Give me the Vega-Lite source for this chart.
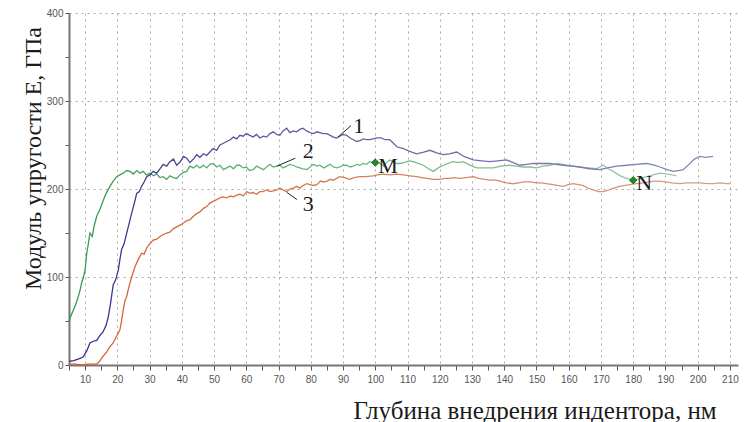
{
  "$schema": "https://vega.github.io/schema/vega-lite/v6.json",
  "width": 669,
  "height": 352,
  "autosize": {"type": "none"},
  "padding": {"left": 69, "top": 13, "right": 16, "bottom": 57},
  "background": "white",
  "config": {"view": {"stroke": null}},
  "datasets": {
    "c1": [
      {"x":5,"y":4},{"x":6.5,"y":5},{"x":8,"y":7},{"x":9.4,"y":9},{"x":10.5,"y":16},{"x":11.5,"y":25},{"x":12.5,"y":27},{"x":13.6,"y":28},{"x":14.5,"y":33},{"x":15.6,"y":38},{"x":16.5,"y":45},{"x":17.2,"y":55},{"x":17.8,"y":68},{"x":18.2,"y":78},{"x":18.7,"y":91},{"x":19.5,"y":97},{"x":20.3,"y":108},{"x":20.8,"y":120},{"x":21.3,"y":131},{"x":22.1,"y":138},{"x":22.9,"y":150},{"x":23.6,"y":160},{"x":24.4,"y":172},{"x":25.2,"y":183},{"x":26,"y":195},{"x":26.8,"y":197},{"x":27.5,"y":203},{"x":28.3,"y":208},{"x":29.1,"y":214},{"x":30.1,"y":216},{"x":31.1,"y":220},{"x":32.2,"y":218},{"x":33.2,"y":223},{"x":34.2,"y":228},{"x":35.3,"y":226},{"x":36.3,"y":231},{"x":37.4,"y":234},{"x":38.4,"y":227},{"x":39.5,"y":231},{"x":40.5,"y":237},{"x":41.5,"y":235},{"x":42.5,"y":230},{"x":43.6,"y":234},{"x":44.6,"y":239},{"x":45.6,"y":236},{"x":46.7,"y":240},{"x":47.7,"y":238},{"x":48.7,"y":242},{"x":49.7,"y":246},{"x":50.8,"y":244},{"x":51.8,"y":250},{"x":52.9,"y":252},{"x":53.9,"y":254},{"x":55,"y":256},{"x":56,"y":259},{"x":57,"y":257},{"x":58,"y":261},{"x":59,"y":260},{"x":60,"y":263},{"x":61.1,"y":261},{"x":62.1,"y":259},{"x":63.2,"y":262},{"x":64.2,"y":258},{"x":65.3,"y":260},{"x":66.3,"y":259},{"x":67.3,"y":263},{"x":68.4,"y":265},{"x":69.4,"y":262},{"x":70.4,"y":261},{"x":71.4,"y":266},{"x":72.5,"y":269},{"x":73.5,"y":264},{"x":74.6,"y":266},{"x":75.6,"y":265},{"x":76.7,"y":268},{"x":77.6,"y":269},{"x":78.7,"y":266},{"x":79.8,"y":264},{"x":80.8,"y":263},{"x":82,"y":265},{"x":83.8,"y":263},{"x":85,"y":263},{"x":86,"y":261},{"x":87,"y":259},{"x":88,"y":258},{"x":89,"y":260},{"x":90,"y":262},{"x":91.1,"y":261},{"x":92.2,"y":258},{"x":93.2,"y":256},{"x":94.2,"y":254},{"x":95.3,"y":255},{"x":96.3,"y":257},{"x":97.3,"y":256},{"x":98.3,"y":256},{"x":99.3,"y":257},{"x":100.5,"y":258},{"x":101.9,"y":258},{"x":103,"y":256},{"x":104.5,"y":256},{"x":106.7,"y":248},{"x":108.7,"y":246},{"x":110.5,"y":243},{"x":112.8,"y":240},{"x":115,"y":242},{"x":117,"y":244},{"x":119,"y":241},{"x":121.1,"y":239},{"x":123,"y":240},{"x":125.2,"y":242},{"x":127.5,"y":237},{"x":130.4,"y":233},{"x":133,"y":232},{"x":135.5,"y":231},{"x":138,"y":232},{"x":140.7,"y":233},{"x":142.8,"y":230},{"x":144.8,"y":227},{"x":147,"y":228},{"x":149,"y":229},{"x":151.5,"y":229},{"x":154.1,"y":229},{"x":156,"y":228},{"x":158.3,"y":227},{"x":161,"y":226},{"x":163.4,"y":225},{"x":166.5,"y":223},{"x":169.6,"y":222},{"x":172,"y":224},{"x":175,"y":226},{"x":177.9,"y":227},{"x":181,"y":228},{"x":184.1,"y":229},{"x":186.5,"y":227},{"x":188.3,"y":225},{"x":190.5,"y":222},{"x":192.4,"y":220},{"x":194,"y":221},{"x":195.5,"y":222},{"x":197.6,"y":229},{"x":199,"y":234},{"x":200.7,"y":237},{"x":202.5,"y":236},{"x":204.8,"y":237}
    ],
    "c2": [
      {"x":5,"y":50},{"x":5.5,"y":55},{"x":6.3,"y":62},{"x":7,"y":68},{"x":7.9,"y":78},{"x":8.5,"y":86},{"x":8.9,"y":93},{"x":9.5,"y":100},{"x":10,"y":108},{"x":10.5,"y":127},{"x":11,"y":138},{"x":11.5,"y":150},{"x":12.2,"y":146},{"x":12.8,"y":158},{"x":13.6,"y":169},{"x":14.5,"y":176},{"x":15.6,"y":187},{"x":16.5,"y":195},{"x":17.7,"y":203},{"x":18.7,"y":209},{"x":19.8,"y":214},{"x":20.8,"y":216},{"x":21.8,"y":218},{"x":22.9,"y":221},{"x":23.9,"y":220},{"x":25,"y":217},{"x":26,"y":221},{"x":27,"y":218},{"x":28,"y":220},{"x":29,"y":216},{"x":30.1,"y":218},{"x":31.2,"y":215},{"x":32.2,"y":217},{"x":33.2,"y":213},{"x":34.2,"y":214},{"x":35.3,"y":211},{"x":36.3,"y":215},{"x":37.4,"y":213},{"x":38.4,"y":212},{"x":39.4,"y":216},{"x":40.5,"y":219},{"x":41.5,"y":220},{"x":42.5,"y":226},{"x":43.6,"y":224},{"x":44.6,"y":227},{"x":45.6,"y":224},{"x":46.7,"y":227},{"x":47.7,"y":224},{"x":48.7,"y":228},{"x":49.7,"y":229},{"x":50.8,"y":225},{"x":51.8,"y":227},{"x":52.9,"y":222},{"x":53.9,"y":224},{"x":55,"y":226},{"x":56,"y":223},{"x":57,"y":227},{"x":58,"y":227},{"x":59,"y":224},{"x":60,"y":225},{"x":61,"y":221},{"x":62.1,"y":222},{"x":63.2,"y":226},{"x":64.2,"y":224},{"x":65.3,"y":222},{"x":66.3,"y":225},{"x":67.3,"y":228},{"x":68.4,"y":225},{"x":69.4,"y":226},{"x":70.4,"y":227},{"x":71.4,"y":224},{"x":72.5,"y":226},{"x":73.5,"y":228},{"x":74.5,"y":227},{"x":75.6,"y":225},{"x":76.6,"y":224},{"x":77.6,"y":223},{"x":78.7,"y":222},{"x":79.8,"y":225},{"x":80.8,"y":228},{"x":81.8,"y":226},{"x":82.8,"y":227},{"x":84,"y":224},{"x":85,"y":226},{"x":86,"y":228},{"x":87,"y":225},{"x":88,"y":224},{"x":89,"y":225},{"x":90,"y":227},{"x":91.1,"y":227},{"x":92.2,"y":225},{"x":93.2,"y":226},{"x":94.2,"y":228},{"x":95.2,"y":227},{"x":96.3,"y":229},{"x":97.3,"y":228},{"x":98.3,"y":231},{"x":99.3,"y":230},{"x":100.5,"y":231},{"x":101.5,"y":229},{"x":102.5,"y":226},{"x":103.5,"y":230},{"x":104.5,"y":233},{"x":105.5,"y":231},{"x":106.5,"y":229},{"x":107.6,"y":229},{"x":109,"y":230},{"x":110.5,"y":232},{"x":111.8,"y":231},{"x":113.3,"y":229},{"x":114.9,"y":227},{"x":116.5,"y":223},{"x":118,"y":220},{"x":119.5,"y":224},{"x":121.1,"y":227},{"x":122.6,"y":229},{"x":124.2,"y":231},{"x":125.7,"y":230},{"x":127.3,"y":231},{"x":128.8,"y":228},{"x":131.4,"y":224},{"x":134,"y":224},{"x":136.6,"y":224},{"x":139,"y":226},{"x":141.7,"y":227},{"x":143.8,"y":226},{"x":145.9,"y":225},{"x":148,"y":225},{"x":150,"y":224},{"x":152,"y":226},{"x":154.1,"y":227},{"x":156.5,"y":229},{"x":159.3,"y":227},{"x":161.4,"y":226},{"x":163.4,"y":225},{"x":166,"y":224},{"x":168.6,"y":223},{"x":170.7,"y":227},{"x":172.3,"y":223},{"x":173.8,"y":220},{"x":176,"y":215},{"x":177.9,"y":212},{"x":179.2,"y":211},{"x":180.5,"y":210},{"x":182.3,"y":212},{"x":184.1,"y":214},{"x":186.2,"y":216},{"x":188.3,"y":218},{"x":190.5,"y":217},{"x":192,"y":216},{"x":193.4,"y":215}
    ],
    "c3": [
      {"x":5,"y":1},{"x":7,"y":1},{"x":9,"y":0},{"x":11,"y":1},{"x":13.6,"y":1},{"x":14.6,"y":5},{"x":15.6,"y":10},{"x":16.7,"y":15},{"x":17.7,"y":21},{"x":18.7,"y":25},{"x":19.8,"y":33},{"x":20.8,"y":40},{"x":21.3,"y":50},{"x":21.8,"y":62},{"x":22.3,"y":72},{"x":22.9,"y":78},{"x":23.4,"y":86},{"x":23.9,"y":93},{"x":24.7,"y":103},{"x":25.5,"y":112},{"x":26.5,"y":120},{"x":27.5,"y":127},{"x":28.3,"y":126},{"x":29.1,"y":133},{"x":30.1,"y":138},{"x":31.1,"y":142},{"x":32.2,"y":143},{"x":33.2,"y":146},{"x":34.2,"y":148},{"x":35.3,"y":150},{"x":36.3,"y":151},{"x":37.4,"y":155},{"x":38.4,"y":157},{"x":39.4,"y":159},{"x":40.4,"y":161},{"x":41.5,"y":164},{"x":42.5,"y":165},{"x":43.6,"y":169},{"x":44.6,"y":172},{"x":45.6,"y":174},{"x":46.7,"y":178},{"x":47.7,"y":180},{"x":48.7,"y":184},{"x":49.7,"y":186},{"x":50.8,"y":188},{"x":51.8,"y":190},{"x":52.8,"y":191},{"x":54,"y":190},{"x":55,"y":192},{"x":56,"y":191},{"x":57,"y":193},{"x":58,"y":194},{"x":59,"y":192},{"x":60.1,"y":197},{"x":61.1,"y":195},{"x":62.1,"y":196},{"x":63.2,"y":194},{"x":64.2,"y":197},{"x":65.2,"y":197},{"x":66.3,"y":199},{"x":67.3,"y":197},{"x":68.4,"y":198},{"x":69.4,"y":199},{"x":70.4,"y":201},{"x":71.4,"y":199},{"x":72.5,"y":197},{"x":73.5,"y":200},{"x":74.6,"y":201},{"x":75.6,"y":203},{"x":76.6,"y":201},{"x":77.6,"y":204},{"x":78.7,"y":206},{"x":79.8,"y":205},{"x":80.8,"y":204},{"x":81.9,"y":205},{"x":83,"y":209},{"x":84,"y":208},{"x":85,"y":209},{"x":86,"y":211},{"x":87,"y":210},{"x":88,"y":212},{"x":89,"y":214},{"x":90.5,"y":213},{"x":92,"y":211},{"x":93.5,"y":213},{"x":95,"y":214},{"x":97,"y":214},{"x":99.3,"y":215},{"x":100.5,"y":216},{"x":102.5,"y":217},{"x":104.5,"y":216},{"x":106.7,"y":217},{"x":108.7,"y":216},{"x":110.7,"y":215},{"x":112.8,"y":214},{"x":114.5,"y":213},{"x":116,"y":212},{"x":118,"y":211},{"x":120,"y":211},{"x":121.5,"y":212},{"x":123,"y":212},{"x":124.5,"y":213},{"x":126.2,"y":212},{"x":128,"y":213},{"x":130.4,"y":214},{"x":132,"y":212},{"x":134,"y":211},{"x":135.5,"y":210},{"x":137.5,"y":210},{"x":139.5,"y":208},{"x":140.8,"y":207},{"x":142.8,"y":206},{"x":144.5,"y":207},{"x":146,"y":208},{"x":148,"y":208},{"x":150,"y":207},{"x":151.5,"y":207},{"x":153.1,"y":206},{"x":155,"y":205},{"x":156.5,"y":204},{"x":158.3,"y":203},{"x":159.8,"y":205},{"x":161.4,"y":206},{"x":163,"y":205},{"x":164.4,"y":204},{"x":166,"y":201},{"x":167.6,"y":199},{"x":169.2,"y":197},{"x":170.7,"y":197},{"x":172.5,"y":199},{"x":174,"y":201},{"x":175.8,"y":203},{"x":177.5,"y":204},{"x":179,"y":205},{"x":181,"y":206},{"x":183,"y":207},{"x":185,"y":208},{"x":186.5,"y":209},{"x":188.3,"y":209},{"x":190,"y":208},{"x":192,"y":207},{"x":194.5,"y":206},{"x":196.5,"y":207},{"x":198.5,"y":207},{"x":200.7,"y":207},{"x":203,"y":206},{"x":205,"y":206},{"x":207,"y":207},{"x":209,"y":206},{"x":210,"y":206}
    ],
    "pts": [
      {"label": "M", "x": 100, "y": 230},
      {"label": "N", "x": 180, "y": 210}
    ],
    "nums": [
      {"label": "1", "x": 93.2, "y": 272},
      {"label": "2", "x": 77.5, "y": 243},
      {"label": "3", "x": 77.5, "y": 183}
    ],
    "leaders": [
      {"x": 88.4, "y": 259, "x2": 92.5, "y2": 272},
      {"x": 69.5, "y": 226, "x2": 75.2, "y2": 235},
      {"x": 72.6, "y": 196, "x2": 75.7, "y2": 188}
    ]
  },
  "encoding": {
    "x": {"field": "x", "type": "quantitative", "scale": {"domain": [5, 212.5], "nice": false, "zero": false},
      "axis": {
        "values": [5,10,15,20,25,30,35,40,45,50,55,60,65,70,75,80,85,90,95,100,105,110,115,120,125,130,135,140,145,150,155,160,165,170,175,180,185,190,195,200,205,210],
        "labelExpr": "datum.value % 10 === 0 ? datum.label : ''",
        "labelOverlap": false,
        "grid": true,
        "gridOpacity": {"condition": {"test": "datum.value % 10 === 0", "value": 1}, "value": 0},
        "gridColor": "#a8a8a8", "gridDash": [2, 4], "gridWidth": 1,
        "domainColor": "#777", "domainWidth": 2,
        "tickColor": "#555", "tickSize": 5, "tickWidth": 1,
        "labelFont": "Liberation Sans", "labelFontSize": 10, "labelColor": "#555", "labelPadding": 4, "labelFlush": false,
        "title": "Глубина внедрения индентора, нм",
        "titleFont": "Liberation Serif", "titleFontSize": 25, "titleFontWeight": "normal", "titleColor": "#1a1a1a",
        "titleAnchor": "start", "titleAlign": "left", "titleBaseline": "middle", "titleX": 284, "titleY": 45
      }},
    "y": {"field": "y", "type": "quantitative", "scale": {"domain": [0, 400], "nice": false},
      "axis": {
        "values": [0,50,100,150,200,250,300,350,400],
        "labelExpr": "datum.value % 100 === 0 ? datum.label : ''",
        "labelOverlap": false,
        "grid": true,
        "gridOpacity": {"condition": {"test": "datum.value % 100 === 0 && datum.value > 0", "value": 1}, "value": 0},
        "gridColor": "#a8a8a8", "gridDash": [2, 4], "gridWidth": 1,
        "domainColor": "#777", "domainWidth": 2,
        "tickColor": "#555", "tickSize": 4, "tickWidth": 1,
        "labelFont": "Liberation Sans", "labelFontSize": 10, "labelColor": "#555", "labelPadding": 2,
        "title": "Модуль упругости E, ГПа",
        "titleFont": "Liberation Serif", "titleFontSize": 24, "titleFontWeight": "normal", "titleColor": "#1a1a1a",
        "titleAngle": -90, "titleAlign": "center", "titleBaseline": "middle", "titleX": -36, "titleY": 145
      }}
  },
  "layer": [
    {
      "data": {"name": "c3"},
      "mark": {"type": "line", "strokeWidth": 1.3,
        "color": {"gradient": "linear", "x1": 0, "y1": 0, "x2": 1, "y2": 0,
          "stops": [{"offset": 0, "color": "#d65a2a"}, {"offset": 0.3, "color": "#d4764c"}, {"offset": 1, "color": "#d4a084"}]}}
    },
    {
      "data": {"name": "c2"},
      "mark": {"type": "line", "strokeWidth": 1.3,
        "color": {"gradient": "linear", "x1": 0, "y1": 0, "x2": 1, "y2": 0,
          "stops": [{"offset": 0, "color": "#2e9a4a"}, {"offset": 0.25, "color": "#5aae70"}, {"offset": 1, "color": "#9ccaa8"}]}}
    },
    {
      "data": {"name": "c1"},
      "mark": {"type": "line", "strokeWidth": 1.3,
        "color": {"gradient": "linear", "x1": 0, "y1": 0, "x2": 1, "y2": 0,
          "stops": [{"offset": 0, "color": "#2e2e86"}, {"offset": 0.3, "color": "#5a58a0"}, {"offset": 1, "color": "#8a88b4"}]}}
    },
    {
      "data": {"name": "leaders"},
      "mark": {"type": "rule", "color": "#222", "strokeWidth": 1},
      "encoding": {"x2": {"field": "x2"}, "y2": {"field": "y2"}}
    },
    {
      "data": {"name": "nums"},
      "mark": {"type": "text", "font": "Liberation Serif", "fontSize": 22, "color": "#1a1a1a", "align": "left", "baseline": "middle"},
      "encoding": {"text": {"field": "label"}}
    },
    {
      "data": {"name": "pts"},
      "mark": {"type": "point", "shape": "diamond", "filled": true, "size": 55, "color": "#1d8a2c", "stroke": "#0f5a18", "strokeWidth": 0.8, "opacity": 1}
    },
    {
      "data": {"name": "pts"},
      "mark": {"type": "text", "font": "Liberation Serif", "fontSize": 22, "color": "#1a1a1a", "align": "left", "baseline": "middle", "dx": 3, "dy": 3},
      "encoding": {"text": {"field": "label"}}
    }
  ]
}
